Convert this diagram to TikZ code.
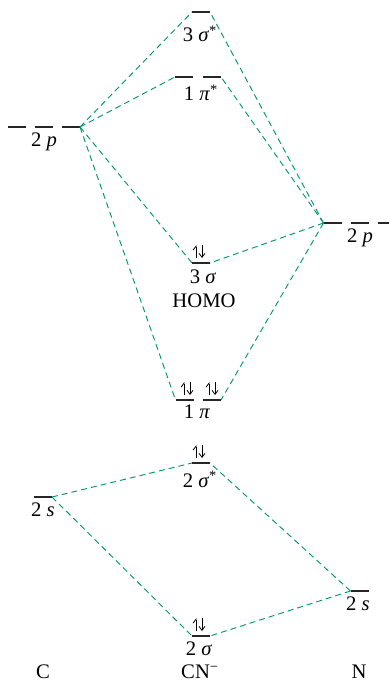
\documentclass[tikz,border=0pt]{standalone}
\usepackage{fontspec}
\setmainfont{Liberation Serif}
\usetikzlibrary{arrows.meta}
\definecolor{mogreen}{RGB}{0,150,110}

\tikzset{
  level/.style={line width=2pt,black!85},
  corr/.style={mogreen,dash pattern=on 4.5pt off 3pt,line width=0.7pt},
  spin/.style={line width=0.6pt},
  lab/.style={anchor=base,inner sep=0pt,font=\fontsize{15.5}{18}\selectfont},
}

\newcommand{\orb}[3]{%
  \coordinate (#1-l) at (#2-9,#3);
  \coordinate (#1-r) at (#2+9,#3);
  \draw[level] (#1-l) -- (#1-r);}
\newcommand{\epair}[2]{%
  \draw[spin,-{Straight Barb[left,length=3pt,width=4.5pt]}] (#1-3,#2-5) -- (#1-3,#2-18);
  \draw[spin,-{Straight Barb[length=3pt,width=4.5pt]}] (#1+3,#2-18) -- (#1+3,#2-5);}

\begin{document}
\begin{tikzpicture}[x=0.75pt,y=-0.75pt]
        \useasboundingbox (0,0) rectangle (389,684);
        % carbon
        \orb{c2pa}{17}{127}
        \orb{c2pb}{44}{127}
        \orb{c2pc}{71}{127}
        \orb{c2s}{43}{497}
        \node[lab] (lc2p) at (44,147) {2 \textit{p}};
        \node[lab] (lc2s) at (43,516) {2 \textit{s}};
        % nitrogen
        \orb{n2pa}{332.5}{223}
        \orb{n2pb}{359.5}{223}
        \draw[level] (378,223) coordinate (n2pc-l) -- (389,223) coordinate (n2pc-r);
        \orb{n2s}{359.5}{591}
        \node[lab] (ln2p) at (360,242) {2 \textit{p}};
        \node[lab] (ln2s) at (358,610) {2 \textit{s}};
        % CN-
        \orb{s3s}{201}{12}
        \orb{pisa}{184}{77}
        \orb{pisb}{212}{77}
        \orb{s3}{201}{263}
        \orb{pia}{184.5}{400}
        \orb{pib}{212}{400}
        \orb{s2s}{201}{463}
        \orb{s2}{201}{636}
        \epair{199}{263}
        \epair{187}{400}
        \epair{212}{400}
        \epair{199}{463}
        \epair{199}{636}
        \node[lab] (ls3s) at (200,42) {3 \textit{σ}\textsuperscript{*}};
        \node[lab] (lpis) at (201,101) {1 \textit{π}\textsuperscript{*}};
        \node[lab] (ls3) at (203,283) {3 \textit{σ}};
        \node[lab] (lhomo) at (204,307) {HOMO};
        \node[lab] (lpi) at (197,418) {1 \textit{π}};
        \node[lab] (ls2s) at (200,487) {2 \textit{σ}\textsuperscript{*}};
        \node[lab] (ls2) at (199,655) {2 \textit{σ}};
        \node[lab] (atomc) at (43,678) {C};
        \node[lab] (mol) at (200,678) {CN\textsuperscript{−}};
        \node[lab] (atomn) at (359,678) {N};
        % correlation lines
        \draw[corr] (c2pc-r) -- (s3s-l);
        \draw[corr] (c2pc-r) -- (pisa-l);
        \draw[corr] (c2pc-r) -- (s3-l);
        \draw[corr] (c2pc-r) -- (pia-l);
        \draw[corr] (n2pa-l) -- (s3s-r);
        \draw[corr] (n2pa-l) -- (pisb-r);
        \draw[corr] (n2pa-l) -- (s3-r);
        \draw[corr] (n2pa-l) -- (pib-r);
        \draw[corr] (c2s-r) -- (s2s-l);
        \draw[corr] (c2s-r) -- (s2-l);
        \draw[corr] (n2s-l) -- (s2s-r);
        \draw[corr] (n2s-l) -- (s2-r);
\end{tikzpicture}
\end{document}
